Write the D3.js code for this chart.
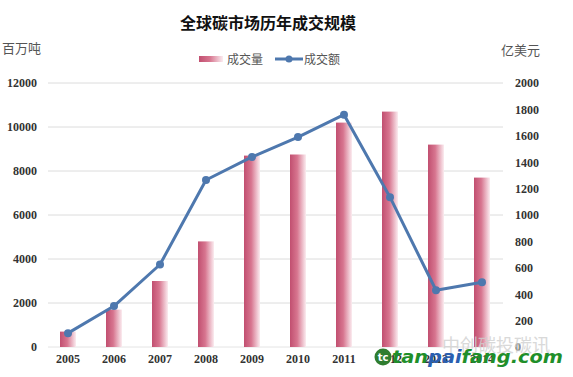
<!DOCTYPE html>
<html>
<head>
<meta charset="utf-8">
<script src="https://cdn.jsdelivr.net/npm/d3@7/dist/d3.min.js"></script>
<style>
  body { margin: 0; background: #fff; }
  svg { display: block; }
</style>
</head>
<body>
<div id="chart"></div>
<script>
const WIDTH = 573;
const HEIGHT = 377;

const years = ['2005', '2006', '2007', '2008', '2009', '2010', '2011', '2012', '2013', '2014'];
const volume = [700, 1700, 3000, 4800, 8700, 8750, 10200, 10700, 9200, 7700];   // 百万吨
const value = [105, 310, 625, 1265, 1440, 1590, 1760, 1135, 430, 490];          // 亿美元
const leftTicks = [0, 2000, 4000, 6000, 8000, 10000, 12000];
const rightTicks = [0, 200, 400, 600, 800, 1000, 1200, 1400, 1600, 1800, 2000];

const svg = d3.select('#chart')
    .append('svg')
        .attr('width', WIDTH)
        .attr('height', HEIGHT);

// bar gradient, dark rose on the left fading to white
const grad = svg.append('defs').append('linearGradient')
    .attr('id', 'barGrad')
    .attr('x1', '0%').attr('x2', '100%')
    .attr('y1', '0%').attr('y2', '0%');
grad.append('stop').attr('offset', '0%').attr('stop-color', '#c14f70');
grad.append('stop').attr('offset', '45%').attr('stop-color', '#d7758f');
grad.append('stop').attr('offset', '100%').attr('stop-color', '#fbecf0');

const x = d3.scaleBand()
    .domain(years)
    .range([45, 505]);

const yL = d3.scaleLinear()
    .domain([0, 12000])
    .range([347, 83]);

const yR = d3.scaleLinear()
    .domain([0, 2000])
    .range([347, 83]);

// gridlines
svg.append('g')
    .selectAll('line')
    .data(leftTicks.filter(d => d > 0))
    .enter()
    .append('line')
        .attr('x1', 48)
        .attr('x2', 503)
        .attr('y1', d => yL(d))
        .attr('y2', d => yL(d))
        .attr('stroke', '#dcdcdc')
        .attr('stroke-width', 1);

svg.append('line')
    .attr('x1', 48).attr('x2', 503)
    .attr('y1', yL(0)).attr('y2', yL(0))
    .attr('stroke', '#e4e4e4');

// left axis
const leftAxis = svg.append('g')
    .attr('transform', 'translate(37,0)')
    .call(d3.axisLeft(yL).tickValues(leftTicks).tickSize(0).tickPadding(0).tickFormat(d3.format('d')));
leftAxis.select('.domain').remove();
leftAxis.selectAll('text')
    .attr('font-family', '"Liberation Serif", serif')
    .attr('font-size', 12)
    .attr('font-weight', 'bold')
    .attr('fill', '#333');

// right axis
const rightAxis = svg.append('g')
    .attr('transform', 'translate(515,0)')
    .call(d3.axisRight(yR).tickValues(rightTicks).tickSize(0).tickPadding(0).tickFormat(d3.format('d')));
rightAxis.select('.domain').remove();
rightAxis.selectAll('text')
    .attr('font-family', '"Liberation Serif", serif')
    .attr('font-size', 12)
    .attr('font-weight', 'bold')
    .attr('fill', '#333');

// bottom axis
const bottomAxis = svg.append('g')
    .attr('transform', `translate(0,${yL(0) + 7})`)
    .call(d3.axisBottom(x).tickSize(0).tickPadding(0));
bottomAxis.select('.domain').remove();
bottomAxis.selectAll('text')
    .attr('font-family', '"Liberation Serif", serif')
    .attr('font-size', 12)
    .attr('font-weight', 'bold')
    .attr('fill', '#333');

// bars
const BAR_W = 16;
svg.append('g')
    .selectAll('rect')
    .data(volume)
    .enter()
    .append('rect')
        .attr('x', (d, i) => x(years[i]) + x.bandwidth() / 2 - BAR_W / 2)
        .attr('y', d => yL(d))
        .attr('width', BAR_W)
        .attr('height', d => yL(0) - yL(d))
        .attr('fill', 'url(#barGrad)');

// line
const line = d3.line()
    .x((d, i) => x(years[i]) + x.bandwidth() / 2)
    .y(d => yR(d));

svg.append('path')
    .datum(value)
    .attr('d', line)
    .attr('fill', 'none')
    .attr('stroke', '#4e78ae')
    .attr('stroke-width', 3)
    .attr('stroke-linejoin', 'round');

svg.append('g')
    .selectAll('circle')
    .data(value)
    .enter()
    .append('circle')
        .attr('cx', (d, i) => x(years[i]) + x.bandwidth() / 2)
        .attr('cy', d => yR(d))
        .attr('r', 4)
        .attr('fill', '#4e78ae');

// title + axis names
svg.append('text')
    .attr('x', 268)
    .attr('y', 29)
    .attr('text-anchor', 'middle')
    .attr('font-family', '"Noto Sans CJK SC", sans-serif')
    .attr('font-size', 16)
    .attr('font-weight', 'bold')
    .attr('fill', '#111')
    .text('全球碳市场历年成交规模');

svg.append('text')
    .attr('x', 2).attr('y', 53)
    .attr('font-family', '"Noto Sans CJK SC", sans-serif')
    .attr('font-size', 13)
    .attr('fill', '#555')
    .text('百万吨');

svg.append('text')
    .attr('x', 501).attr('y', 55)
    .attr('font-family', '"Noto Sans CJK SC", sans-serif')
    .attr('font-size', 13)
    .attr('fill', '#555')
    .text('亿美元');

// legend
const legend = svg.append('g');
legend.append('rect')
    .attr('x', 199).attr('y', 56)
    .attr('width', 24).attr('height', 6)
    .attr('fill', 'url(#barGrad)');
legend.append('text')
    .attr('x', 227).attr('y', 64)
    .attr('font-family', '"Noto Sans CJK SC", sans-serif')
    .attr('font-size', 12)
    .attr('fill', '#555')
    .text('成交量');
legend.append('line')
    .attr('x1', 275).attr('x2', 303)
    .attr('y1', 59).attr('y2', 59)
    .attr('stroke', '#4e78ae')
    .attr('stroke-width', 3);
legend.append('circle')
    .attr('cx', 289).attr('cy', 59).attr('r', 3.5)
    .attr('fill', '#4e78ae');
legend.append('text')
    .attr('x', 304).attr('y', 64)
    .attr('font-family', '"Noto Sans CJK SC", sans-serif')
    .attr('font-size', 12)
    .attr('fill', '#555')
    .text('成交额');

// watermark
const wm = svg.append('g');
wm.append('text')
    .attr('x', 442).attr('y', 352)
    .attr('font-family', '"Noto Sans CJK SC", sans-serif')
    .attr('font-size', 18)
    .attr('fill', '#d0d0d0')
    .attr('opacity', 0.8)
    .text('中创碳投碳讯');
wm.append('circle')
    .attr('cx', 383).attr('cy', 357).attr('r', 8.5)
    .attr('fill', '#2f7d2f');
wm.append('text')
    .attr('x', 383).attr('y', 361)
    .attr('text-anchor', 'middle')
    .attr('font-family', '"DejaVu Sans", sans-serif')
    .attr('font-size', 10)
    .attr('font-weight', 'bold')
    .attr('fill', '#ffffff')
    .text('tc');
const wmText = wm.append('text')
    .attr('x', 392).attr('y', 363)
    .attr('font-family', '"DejaVu Sans", sans-serif')
    .attr('font-size', 17)
    .attr('font-weight', 'bold')
    .attr('font-style', 'italic')
    .attr('textLength', 171)
    .attr('lengthAdjust', 'spacingAndGlyphs');
wmText.append('tspan').attr('fill', '#1f8f2a').text('tan');
wmText.append('tspan').attr('fill', '#2a5fb0').text('pai');
wmText.append('tspan').attr('fill', '#1f8f2a').text('fang.com');
</script>
</body>
</html>
